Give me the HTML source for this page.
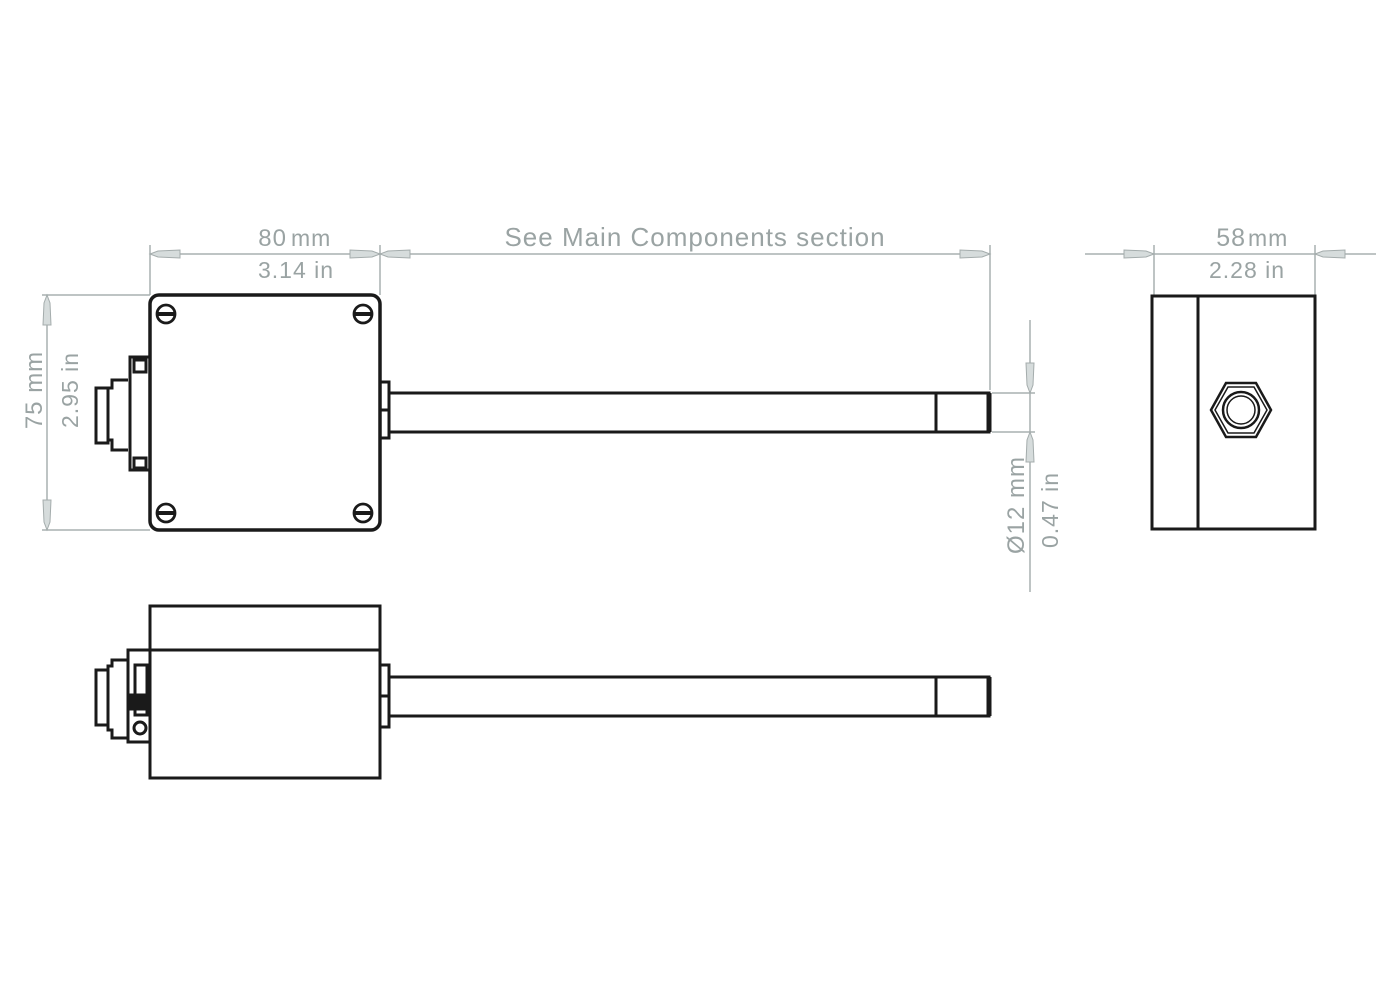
<!DOCTYPE html>
<html><head><meta charset="utf-8"><style>
html,body{margin:0;padding:0;background:#fff;}
svg{display:block;}
text{font-family:"Liberation Sans",sans-serif;fill:#9aa3a3;letter-spacing:1px;}
</style></head><body>
<svg width="1376" height="1000" viewBox="0 0 1376 1000" xmlns="http://www.w3.org/2000/svg">
<defs>
<g id="arR"><polygon points="0,0 -8,-3 -30,-4 -30,4 -8,3" fill="#d6dcdc" stroke="#a4acac" stroke-width="1"/></g>
</defs>
<g stroke="#a8b0b0" stroke-width="1.5" fill="none">
<line x1="150" y1="254" x2="990" y2="254"/>
<line x1="150" y1="245" x2="150" y2="295"/>
<line x1="380" y1="245" x2="380" y2="295"/>
<line x1="990" y1="245" x2="990" y2="390"/>
<line x1="47" y1="295" x2="47" y2="530"/>
<line x1="42" y1="295" x2="150" y2="295"/>
<line x1="42" y1="530" x2="150" y2="530"/>
<line x1="1030" y1="320" x2="1030" y2="592"/>
<line x1="992" y1="393" x2="1035" y2="393"/>
<line x1="992" y1="432" x2="1035" y2="432"/>
<line x1="1085" y1="254" x2="1376" y2="254"/>
<line x1="1154" y1="245" x2="1154" y2="295"/>
<line x1="1315" y1="245" x2="1315" y2="295"/>
</g>
<use href="#arR" transform="translate(150,254) rotate(180)"/>
<use href="#arR" transform="translate(380,254)"/>
<use href="#arR" transform="translate(380,254) rotate(180)"/>
<use href="#arR" transform="translate(990,254)"/>
<use href="#arR" transform="translate(47,295) rotate(-90)"/>
<use href="#arR" transform="translate(47,530) rotate(90)"/>
<use href="#arR" transform="translate(1030,393) rotate(90)"/>
<use href="#arR" transform="translate(1030,432) rotate(-90)"/>
<use href="#arR" transform="translate(1154,254)"/>
<use href="#arR" transform="translate(1315,254) rotate(180)"/>
<text x="287" y="246" font-size="24" text-anchor="end">80</text>
<text x="291" y="246" font-size="23">mm</text>
<text x="296" y="278" font-size="23" text-anchor="middle">3.14 in</text>
<text x="695" y="246" font-size="26" text-anchor="middle">See Main Components section</text>
<text x="1246" y="246" font-size="25" text-anchor="end">58</text>
<text x="1248" y="246" font-size="23">mm</text>
<text x="1247" y="278" font-size="23" text-anchor="middle">2.28 in</text>
<text transform="translate(42,390) rotate(-90)" font-size="24" text-anchor="middle">75 mm</text>
<text transform="translate(78,390) rotate(-90)" font-size="23" text-anchor="middle">2.95 in</text>
<text transform="translate(1024,505) rotate(-90)" font-size="24" text-anchor="middle">Ø12 mm</text>
<text transform="translate(1058,510) rotate(-90)" font-size="23" text-anchor="middle">0.47 in</text>

<g stroke="#1a1a1a" fill="none" stroke-width="3.5">
<rect x="150" y="295" width="230" height="235" rx="9"/>
<g stroke-width="2.8">
<circle cx="166" cy="314" r="9"/><line x1="157" y1="314" x2="175" y2="314" stroke-width="4"/>
<circle cx="363" cy="314" r="9"/><line x1="354" y1="314" x2="372" y2="314" stroke-width="4"/>
<circle cx="166" cy="513" r="9"/><line x1="157" y1="513" x2="175" y2="513" stroke-width="4"/>
<circle cx="363" cy="513" r="9"/><line x1="354" y1="513" x2="372" y2="513" stroke-width="4"/>
</g>
<g stroke-width="3">
<rect x="130" y="357" width="20" height="113"/>
<rect x="134" y="360" width="12" height="12"/>
<rect x="134" y="458" width="12" height="10"/>
<path d="M128,380 L112,380 L112,388 L108,388 L108,440 L112,440 L112,450 L128,450"/>
<rect x="96" y="388" width="12" height="55"/>
<rect x="380" y="382" width="9" height="56"/>
<line x1="380" y1="410" x2="389" y2="410"/>
<rect x="389" y="393" width="600" height="39"/>
<line x1="936" y1="393" x2="936" y2="432"/>
<line x1="989" y1="393" x2="989" y2="432" stroke-width="5"/>
</g>
<rect x="1152" y="296" width="163" height="233" stroke-width="3"/>
<line x1="1198" y1="296" x2="1198" y2="529" stroke-width="3"/>
<polygon points="1211,410 1226,383 1256,383 1271,410 1256,437 1226,437" stroke-width="2.5"/>
<polygon points="1215,410 1228,387 1254,387 1267,410 1254,433 1228,433" stroke-width="1.5"/>
<circle cx="1241" cy="410" r="18" stroke-width="2.5"/>
<circle cx="1241" cy="410" r="14" stroke-width="1.5"/>
<rect x="150" y="606" width="230" height="172" stroke-width="3"/>
<line x1="150" y1="650" x2="380" y2="650" stroke-width="3"/>
<g stroke-width="3">
<rect x="128" y="650" width="22" height="92"/>
<rect x="135" y="665" width="12" height="50"/>
<rect x="130" y="695" width="18" height="14" fill="#1a1a1a"/>
<circle cx="140" cy="728" r="6"/>
<path d="M128,660 L112,660 L112,666 L108,666 L108,730 L112,730 L112,738 L128,738"/>
<rect x="96" y="670" width="12" height="55"/>
<rect x="380" y="665" width="9" height="62"/>
<line x1="380" y1="696" x2="389" y2="696"/>
<rect x="389" y="677" width="600" height="39"/>
<line x1="936" y1="677" x2="936" y2="716"/>
<line x1="989" y1="677" x2="989" y2="716" stroke-width="5"/>
</g>
</g>
</svg>
</body></html>
